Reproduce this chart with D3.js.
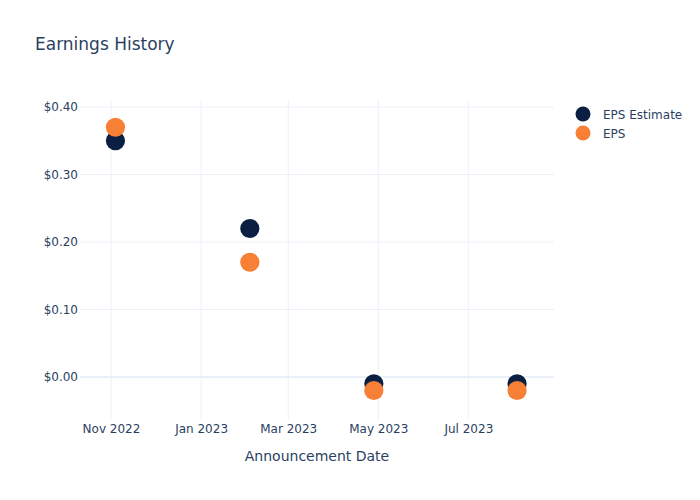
<!DOCTYPE html>
<html><head><meta charset="utf-8">
<script src="https://cdn.jsdelivr.net/npm/d3@7"></script>
<style>body{margin:0;background:#fff}svg{font-family:"DejaVu Sans",Verdana,sans-serif}</style>
</head><body><svg id="c" width="700" height="500"></svg>
<script>
const dates = ["2022-11-04","2023-02-03","2023-04-28","2023-08-03"];
const epsEstimate = [0.35, 0.22, -0.01, -0.01];
const eps = [0.37, 0.17, -0.02, -0.02];
const xTicks = ["2022-11-01","2023-01-01","2023-03-01","2023-05-01","2023-07-01"];
const yTicks = [0, 0.1, 0.2, 0.3, 0.4];
const seriesNames = ["EPS Estimate","EPS"];
const colors = ["#0b1f42","#f78036"];

const parse = d3.utcParse("%Y-%m-%d");
const svg = d3.select("#c");
const m = {l:80, r:146, t:100, b:80};
const W = 700, H = 500;
const x = d3.scaleUtc().domain([parse("2022-10-11"), parse("2023-08-28")]).range([m.l, W-m.r]);
const y = d3.scaleLinear().domain([-0.0637, 0.4104]).range([H-m.b, m.t]);
const txt = "#2a3f5f";

// grid
svg.append("g").selectAll("line").data(xTicks).join("line")
  .attr("x1", d=>x(parse(d))).attr("x2", d=>x(parse(d)))
  .attr("y1", m.t).attr("y2", H-m.b).attr("stroke","#ebf0f8").attr("stroke-width",1);
svg.append("g").selectAll("line").data(yTicks).join("line")
  .attr("x1", m.l).attr("x2", W-m.r)
  .attr("y1", d=>y(d)).attr("y2", d=>y(d)).attr("stroke","#ebf0f8")
  .attr("stroke-width", d=>d===0?2:1);

// axes
const xa = svg.append("g").attr("transform",`translate(0,${H-m.b})`)
  .call(d3.axisBottom(x).tickValues(xTicks.map(parse)).tickFormat(d3.utcFormat("%b %Y")).tickSize(0).tickPadding(4));
const ya = svg.append("g").attr("transform",`translate(${m.l},0)`)
  .call(d3.axisLeft(y).tickValues(yTicks).tickFormat(d=>"$"+d.toFixed(2)).tickSize(0).tickPadding(2));
[xa,ya].forEach(a=>{a.select(".domain").remove();a.selectAll("text").attr("fill",txt).style("font-size","12px").style("font-family","DejaVu Sans, sans-serif");});

// points
[epsEstimate, eps].forEach((vals,i)=>{
  svg.append("g").selectAll("circle").data(vals).join("circle")
    .attr("cx",(d,j)=>x(parse(dates[j]))).attr("cy",d=>y(d)).attr("r",9.6)
    .attr("fill",colors[i]);
});

// title
svg.append("text").attr("x",35).attr("y",50).attr("fill",txt).style("font-size","17px").text("Earnings History");
svg.append("text").attr("x",(m.l+W-m.r)/2).attr("y",461).attr("text-anchor","middle")
  .attr("fill",txt).style("font-size","14px").text("Announcement Date");

// legend
const lg = svg.append("g").selectAll("g").data(seriesNames).join("g")
  .attr("transform",(d,i)=>`translate(583,${114+i*19})`);
lg.append("circle").attr("r",7.5).attr("fill",(d,i)=>colors[i]);
lg.append("text").attr("x",20).attr("y",4.5).attr("fill",txt).style("font-size","12px").text(d=>d);
</script></body></html>
